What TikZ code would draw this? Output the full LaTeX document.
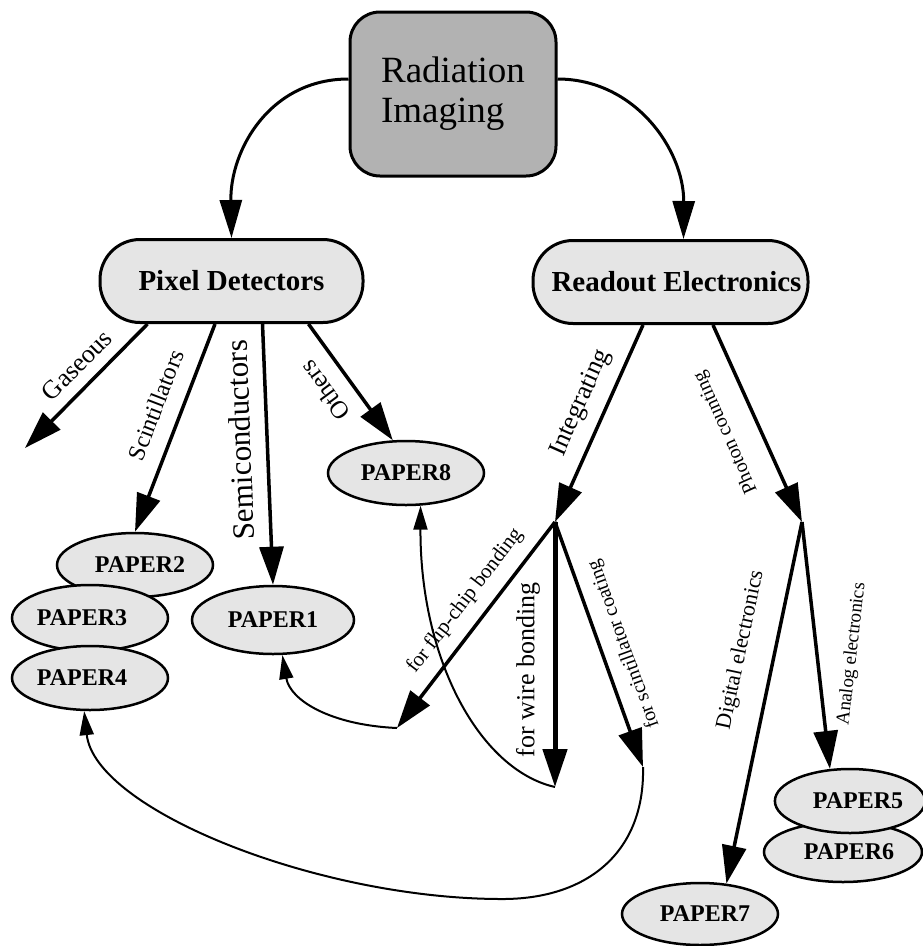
\documentclass[tikz,border=0pt]{standalone}
\usepackage{fontspec}
\setmainfont{Liberation Serif}
\usetikzlibrary{arrows.meta,shapes.geometric}
\begin{document}
\begin{tikzpicture}[x=1pt,y=-1pt,
  topbox/.style={draw,line width=3pt,rounded corners=30pt,fill=black!30,minimum width=206pt,minimum height=164pt,align=left,font=\fontsize{37}{40}\selectfont},
  catbox/.style={draw,line width=3pt,rounded corners=40pt,fill=black!10,minimum height=83pt,font=\bfseries\fontsize{29}{32}\selectfont,inner xsep=0pt},
  paper/.style={draw,ellipse,line width=2.5pt,fill=black!10,inner sep=0pt,font=\bfseries\fontsize{24}{28}\selectfont},
  big/.style={line width=3.5pt,-{Triangle[length=38pt,width=24pt]}},
  thinarr/.style={line width=2pt,-{Triangle[length=24pt,width=14pt]}},
  lbl/.style={inner sep=0pt},
]
\useasboundingbox (0,0) rectangle (922,946);

% papers
\node[paper,minimum width=156pt,minimum height=64pt] (P2) at (135,565) {\hspace*{10pt}PAPER2};
\node[paper,minimum width=156pt,minimum height=66pt] (P3) at (90,618) {PAPER3\hspace*{16pt}};
\node[paper,minimum width=156pt,minimum height=64pt] (P4) at (90,678) {PAPER4\hspace*{16pt}};
\node[paper,minimum width=162pt,minimum height=68pt] (P1) at (273,620) {PAPER1};
\node[paper,minimum width=156pt,minimum height=64pt] (P8) at (406,473) {PAPER8};
\node[paper,minimum width=158pt,minimum height=60pt] (P6) at (843,852) {\hspace*{12pt}PAPER6};
\node[paper,minimum width=146pt,minimum height=64pt] (P5) at (850,801) {\hspace*{16pt}PAPER5};
\node[paper,minimum width=156pt,minimum height=62pt] (P7) at (700,914) {\hspace*{10pt}PAPER7};

% main nodes
\node[topbox] (RI) at (453,94) {Radiation\\Imaging};
\node[catbox,minimum width=263pt] (PD) at (231.5,281) {Pixel Detectors};
\node[catbox,minimum width=275pt] (RE) at (670.5,282) {\hspace*{12pt}Readout Electronics};

% junctions and free ends
\coordinate (GE) at (25,448);
\coordinate (J1) at (555,522);
\coordinate (J2) at (802,522);
\coordinate (FE) at (397,728);
\coordinate (WE) at (555,787);
\coordinate (SE) at (643,767);

% top curves
\draw[line width=3pt,-{Triangle[length=38pt,width=22pt]}] ([yshift=15pt]RI.west) .. controls (270,79) and (230,150) .. (PD.north);
\draw[line width=3pt,-{Triangle[length=38pt,width=22pt]}] ([yshift=15pt]RI.east) .. controls (635,79) and (684,150) .. ([xshift=13pt]RE.north);

% pixel detector branches
\draw[big] ([xshift=-84pt]PD.south) -- (GE);
\draw[big] ([xshift=-16.5pt]PD.south) -- (P2.north);
\draw[big] ([xshift=31pt]PD.south) -- (P1.north);
\draw[big] ([xshift=77pt]PD.south) -- (P8.112);

% readout branches
\draw[big] ([xshift=-27.5pt]RE.south) -- (J1);
\draw[big] ([xshift=42.5pt]RE.south) -- (J2);
\draw[big] (J1) -- (FE);
\draw[big,line width=5pt] (J1) -- (WE);
\draw[big] (J1) -- (SE);
\draw[big] (J2) -- (P7.49);
\draw[big] (J2) -- (P5.122);

% thin returning curves
\draw[thinarr] (FE) .. controls (330,725) and (290,700) .. (P1.-75);
\draw[thinarr] (WE) .. controls (480,770) and (420,660) .. (P8.-66);
\draw[thinarr] (SE) .. controls (645,850) and (590,898) .. (505,899) .. controls (320,900) and (95,810) .. (P4.-100);

% labels
\node[lbl,rotate=45,font=\fontsize{26}{28}\selectfont] (lgas) at (77,365) {Gaseous};
\node[lbl,rotate=69,font=\fontsize{24}{26}\selectfont] (lsci) at (156,405) {Scintillators};
\node[lbl,rotate=92,font=\fontsize{31}{33}\selectfont] (lsemi) at (240,440) {Semiconductors};
\node[lbl,rotate=126.5,font=\fontsize{25}{27}\selectfont] (loth) at (325,391) {Others};
\node[lbl,rotate=66,font=\fontsize{26}{28}\selectfont] (lint) at (581,403) {Integrating};
\node[lbl,rotate=114,font=\fontsize{20}{22}\selectfont] (lpho) at (726,432) {Photon counting};
\node[lbl,rotate=52.4,font=\fontsize{21}{23}\selectfont] (lfc) at (465,601) {for flip-chip bonding};
\node[lbl,rotate=90,font=\fontsize{26}{28}\selectfont] (lwb) at (528,670) {for wire bonding};
\node[lbl,rotate=110,font=\fontsize{20}{22}\selectfont] (lsc) at (624,644) {for scintillator coating};
\node[lbl,rotate=78,font=\fontsize{22}{24}\selectfont] (ldig) at (741,650) {Digital electronics};
\node[lbl,rotate=83.5,font=\fontsize{19}{21}\selectfont] (lana) at (852,654) {Analog electronics};
\end{tikzpicture}
\end{document}
